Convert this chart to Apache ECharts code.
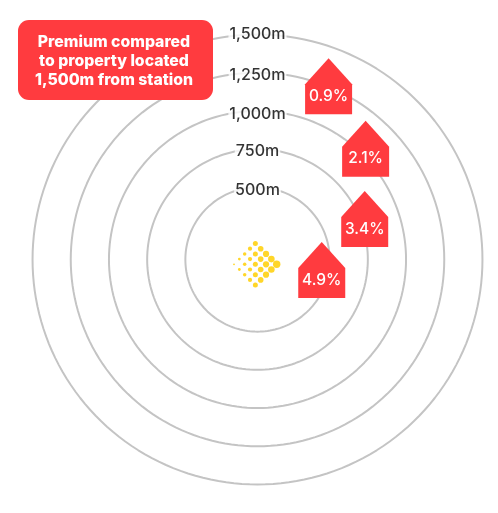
<!DOCTYPE html>
<html>
<head>
<meta charset="utf-8">
<title>Premium by distance from station</title>
<style>
  html, body { margin: 0; padding: 0; background: #fff; }
  #main { width: 498px; height: 513px; }
</style>
<script src="https://cdn.jsdelivr.net/npm/echarts@6/dist/echarts.min.js"></script>
</head>
<body>
<div id="main"></div>
<script>
// rings, distance from the station in metres
var ringDistances = [500, 750, 1000, 1250, 1500];
var ringLabels = ['500m', '750m', '1,000m', '1,250m', '1,500m'];
var ringLabelShift = [3, 2, 3, 2, 0];
var ringAngles = [];
for (var a = 0; a <= 360; a += 2) ringAngles.push(a);

// house markers: where each one sits on the map, and its premium
var housePremiums = ['4.9%', '3.4%', '2.1%', '0.9%'];
var houseDistances = [454, 778, 1041, 1254];
var houseAngles = [-9.3, 20.7, 45.7, 67.7];

var calloutLines = ['Premium compared', 'to property located', '1,500m from station'];

// station logo, dots on a lattice: [column, row]
var logoDots = [
    [8, 0],
    [7, 1], [7, -1],
    [6, 2], [6, 0], [6, -2],
    [5, 3], [5, 1], [5, -1], [5, -3],
    [4, 4], [4, 2], [4, 0], [4, -2], [4, -4],
    [3, 3], [3, 1], [3, -1], [3, -3],
    [2, 2], [2, 0], [2, -2],
    [1, 1], [1, -1],
    [0, 0]
];
var logoColumnSizes = [1.8, 2.8, 3.5, 4.2, 5, 5.6, 6.2, 6.6, 7.4];

var red = '#FF3B3F';
var myChart = echarts.init(document.getElementById('main'), null, { renderer: 'canvas' });

var series = [];

ringDistances.forEach(function (d) {
    series.push({
        type: 'line',
        coordinateSystem: 'polar',
        data: ringAngles.map(function (a) { return [d, a]; }),
        showSymbol: false,
        silent: true,
        lineStyle: { color: '#C4C4C4', width: 2 },
        z: 1
    });
});

series.push({
    type: 'scatter',
    coordinateSystem: 'polar',
    data: ringDistances.map(function (d, i) {
        return {
            value: [d, 90],
            name: ringLabels[i],
            label: { offset: [0, ringLabelShift[i]] }
        };
    }),
    symbolSize: 1,
    itemStyle: { color: 'transparent' },
    silent: true,
    label: {
        show: true,
        position: 'inside',
        formatter: '{b}',
        color: '#000',
        fontFamily: 'Inter',
        fontWeight: 500,
        fontSize: 16,
        backgroundColor: '#fff',
        padding: [2, 1]
    },
    z: 2
});

series.push({
    type: 'scatter',
    coordinateSystem: 'polar',
    data: housePremiums.map(function (p, i) {
        return { value: [houseDistances[i], houseAngles[i]], name: p };
    }),
    symbol: 'path://M0 26L23.5 0L47 26L47 56L0 56Z',
    symbolKeepAspect: false,
    symbolSize: [47, 56],
    itemStyle: { color: red, opacity: 1 },
    silent: true,
    label: {
        show: true,
        position: 'inside',
        offset: [0, 10],
        formatter: '{b}',
        color: '#fff',
        fontFamily: 'Inter',
        fontWeight: 500,
        fontSize: 15.5
    },
    z: 4
});

series.push({
    type: 'scatter',
    xAxisIndex: 0,
    yAxisIndex: 0,
    data: logoDots,
    symbol: 'circle',
    symbolSize: function (v) { return logoColumnSizes[v[0]]; },
    itemStyle: { color: '#FFD629', opacity: 1 },
    silent: true,
    z: 3
});

var option = {
    animation: false,
    backgroundColor: '#fff',
    // axis runs a little past the last ring so the outer ring is not cut
    polar: { center: [257.5, 259.5], radius: [0, 232.6] },
    radiusAxis: { type: 'value', min: 28, max: 1550, show: false },
    angleAxis: { type: 'value', min: 0, max: 360, startAngle: 0, clockwise: false, show: false },
    grid: { left: 234, top: 243.5, width: 42.7, height: 41.6, show: false },
    xAxis: { type: 'value', min: 0, max: 8, show: false },
    yAxis: { type: 'value', min: -4, max: 4, show: false },
    graphic: [
        {
            type: 'rect',
            z: 10,
            shape: { x: 18, y: 20, width: 195, height: 80, r: 11 },
            style: { fill: red }
        },
        {
            type: 'text',
            z: 11,
            x: 114,
            y: 61,
            style: {
                text: calloutLines.join('\n'),
                fill: '#fff',
                font: '800 15.8px Inter',
                lineHeight: 19,
                align: 'center',
                verticalAlign: 'middle'
            }
        }
    ],
    series: series
};

myChart.setOption(option);
window.addEventListener('resize', myChart.resize);
</script>
</body>
</html>
